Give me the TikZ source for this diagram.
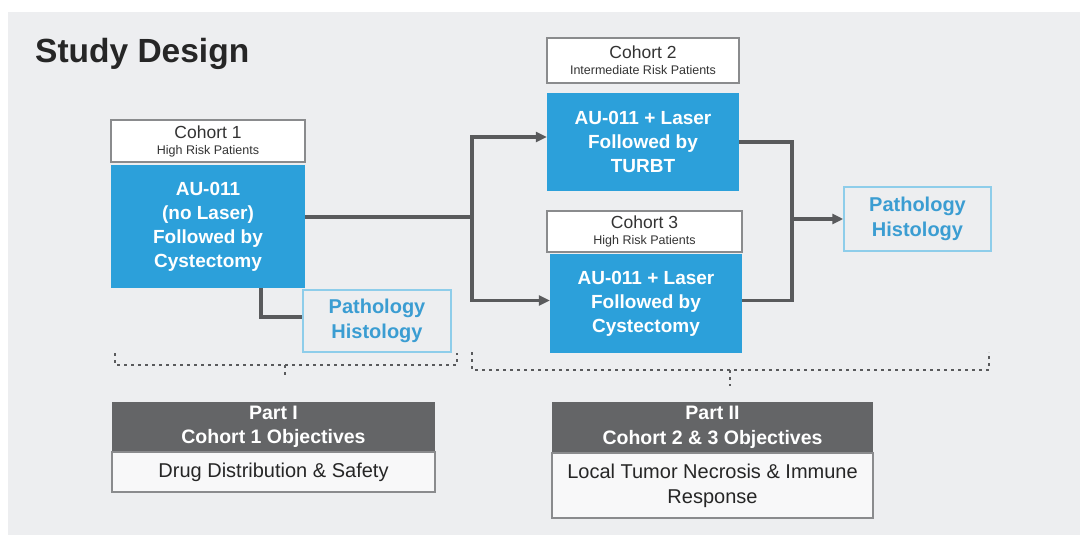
\documentclass[tikz,border=0pt]{standalone}
\usepackage{fontspec}
\setmainfont{Liberation Sans}
\usepackage{xcolor}
\usepackage{tikz}
\usetikzlibrary{arrows.meta}
\definecolor{panelgrey}{HTML}{EDEEF0}
\definecolor{cohortblue}{HTML}{2CA0DA}
\definecolor{pathblue}{HTML}{3B9DD2}
\definecolor{pathline}{HTML}{8ECDEA}
\definecolor{linegrey}{HTML}{595A5C}
\definecolor{headgrey}{HTML}{646567}
\definecolor{boxline}{HTML}{8A8B8D}

\begin{document}
\begin{tikzpicture}[x=1pt,y=-1pt]
	\tikzstyle{every node}=[inner sep=0pt,align=center]
	\tikzstyle{label box}=[draw=boxline,line width=1.2pt,fill=white,text=black!80,font=\fontsize{17.5}{17}\selectfont]
	\tikzstyle{blue box}=[fill=cohortblue,text=white,font=\fontsize{19}{24}\selectfont\bfseries]
	\tikzstyle{path box}=[draw=pathline,line width=1.5pt,text=pathblue,font=\fontsize{20}{25}\selectfont\bfseries]
	\tikzstyle{part head}=[fill=headgrey,text=white,font=\fontsize{19.5}{24.5}\selectfont\bfseries]
	\tikzstyle{part body}=[draw=boxline,line width=1.2pt,fill=white!60!panelgrey,text=black!85,font=\fontsize{20}{25}\selectfont]
	\tikzstyle{link}=[draw=linegrey,line width=3.2pt]
	\tikzstyle{bracket}=[draw=linegrey,line width=2.8pt,dash pattern=on 2.6pt off 4.4pt]
		\useasboundingbox (0,0) rectangle (1080,535);
		\fill[white] (0,0) rectangle (1080,535);
		\fill[panelgrey] (8,12) rectangle (1080,535);
		\node [anchor=base west,text=black!85,font=\fontsize{33.5}{33}\selectfont\bfseries] (title) at (35,63) {Study Design};
		\node [label box,minimum width=194pt,minimum height=42pt] (c1lab) at (208,141) {Cohort 1\\[-1pt]{\fontsize{12.5}{13}\selectfont High Risk Patients}};
		\node [blue box,minimum width=194pt,minimum height=123pt] (c1box) at (208,226.5) {AU-011\\(no Laser)\\Followed by\\Cystectomy};
		\node [path box,minimum width=148pt,minimum height=62pt] (path1) at (377,321) {Pathology\\Histology};
		\node [label box,minimum width=192pt,minimum height=45pt] (c2lab) at (643,60.5) {Cohort 2\\[-1pt]{\fontsize{12.5}{13}\selectfont Intermediate Risk Patients}};
		\node [blue box,minimum width=192pt,minimum height=98pt] (c2box) at (643,142) {AU-011 + Laser\\Followed by\\TURBT};
		\node [label box,minimum width=195pt,minimum height=41pt] (c3lab) at (644.5,231.5) {Cohort 3\\[-1pt]{\fontsize{12.5}{13}\selectfont High Risk Patients}};
		\node [blue box,minimum width=192pt,minimum height=99pt] (c3box) at (646,303.5) {AU-011 + Laser\\Followed by\\Cystectomy};
		\node [path box,minimum width=147pt,minimum height=64pt] (path2) at (917.5,219) {Pathology\\Histology};
		\node [part head,minimum width=323pt,minimum height=50pt] (p1head) at (273.5,427) {Part I\\Cohort 1 Objectives};
		\node [part body,minimum width=323pt,minimum height=40pt] (p1body) at (273.5,472) {Drug Distribution \& Safety};
		\node [part head,minimum width=321pt,minimum height=51pt] (p2head) at (712.5,427.5) {Part II\\Cohort 2 \& 3 Objectives};
		\node [part body,minimum width=321pt,minimum height=65pt] (p2body) at (712.5,485.5) {Local Tumor Necrosis \& Immune\\Response};
		\coordinate (split) at (472,217);
		\coordinate (merge) at (792,219);
		\draw [link] (c1box.east |- split) to (split);
		\draw [link, ->, >={Triangle[length=11pt,width=10pt]}] (split) |- ([yshift=5pt]c2box.west);
		\draw [link, ->, >={Triangle[length=11pt,width=10pt]}] (split) |- ([yshift=3pt]c3box.west);
		\draw [link] ([xshift=53pt]c1box.south) |- ([yshift=4pt]path1.west);
		\draw [link] (c2box.east) -| (merge);
		\draw [link] ([yshift=3pt]c3box.east) -| (merge);
		\draw [link, ->, >={Triangle[length=11pt,width=10pt]}] (merge) to (path2.west);
		\draw [bracket] (115,353) -- (115,365) -- (457,365) -- (457,353);
		\draw [bracket] (285,365) -- (285,377);
		\draw [bracket] (472,352) -- (472,370) -- (989,370) -- (989,352);
		\draw [bracket] (730,370) -- (730,386);
	\end{tikzpicture}
\end{document}
